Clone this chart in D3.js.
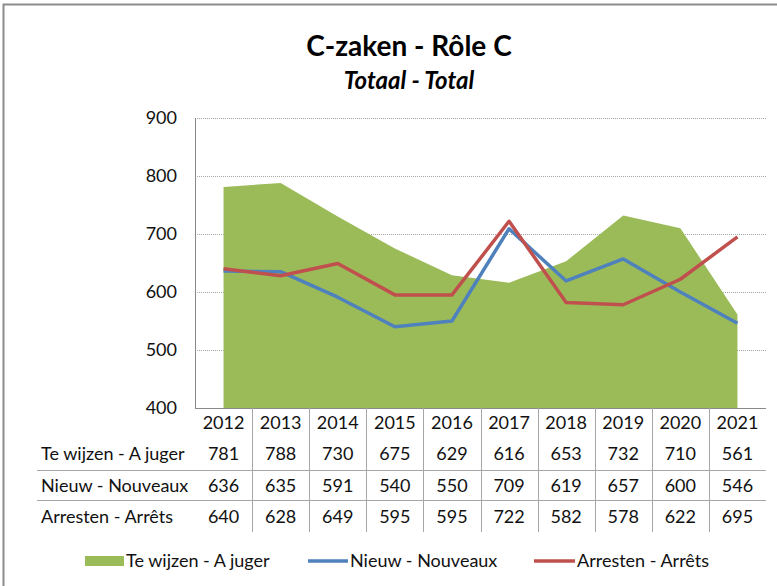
<!DOCTYPE html>
<html>
<head>
<meta charset="utf-8">
<title>C-zaken - Rôle C</title>
<script src="https://cdn.jsdelivr.net/npm/d3@7/dist/d3.min.js"></script>
<style>
body { margin: 0; background: #fff; }
svg { display: block; font-family: Lato, "Open Sans", sans-serif; }
</style>
</head>
<body>
<svg id="chart" width="777" height="586"></svg>
<script>
// data
const years = ["2012","2013","2014","2015","2016","2017","2018","2019","2020","2021"];
const aJuger = [781, 788, 730, 675, 629, 616, 653, 732, 710, 561];
const nouveaux = [636, 635, 591, 540, 550, 709, 619, 657, 600, 546];
const arrets = [640, 628, 649, 595, 595, 722, 582, 578, 622, 695];
const yTicks = [400, 500, 600, 700, 800, 900];

const rows = [
  {label: "Te wijzen - A juger", values: aJuger},
  {label: "Nieuw - Nouveaux", values: nouveaux},
  {label: "Arresten - Arrêts", values: arrets}
];

const green = "#9BBB59", blue = "#4F81BD", red = "#C0504D";
const axisCol = "#898989";
const txt = "#111";
const fs = "18px";

const svg = d3.select("#chart");

// outer frame (right and bottom sides fall outside the picture)
svg.append("rect")
  .attr("x", 3.5).attr("y", 4.5)
  .attr("width", 840).attr("height", 640)
  .attr("fill", "none").attr("stroke", "#8c8c8c").attr("stroke-width", 2);

// titles
svg.append("text")
  .attr("x", 409).attr("y", 56)
  .attr("text-anchor", "middle")
  .style("font-size", "28px").style("font-weight", "bold")
  .text("C-zaken - Rôle C");
svg.append("text")
  .attr("x", 409).attr("y", 89)
  .attr("text-anchor", "middle")
  .style("font-size", "24px").style("font-weight", "bold").style("font-style", "italic")
  .text("Totaal - Total");

const pLeft = 195, pRight = 766, pTop = 118, pBottom = 408;

const x = d3.scaleBand().domain(years).range([pLeft, pRight]);
const cx = d => x(d) + x.bandwidth() / 2;
const y = d3.scaleLinear().domain([400, 900]).range([pBottom, pTop]);

// gridlines
svg.append("g")
  .selectAll("line")
  .data(yTicks.filter(t => t > 400))
  .join("line")
  .attr("x1", pLeft).attr("x2", pRight)
  .attr("y1", d => Math.round(y(d)) + 0.5).attr("y2", d => Math.round(y(d)) + 0.5)
  .attr("stroke", "#a6a6a6").attr("stroke-dasharray", "1,1");

// y labels
svg.append("g")
  .selectAll("text")
  .data(yTicks)
  .join("text")
  .attr("x", 177).attr("y", d => y(d))
  .attr("dy", "0.35em")
  .attr("text-anchor", "end")
  .style("font-size", fs).attr("fill", txt)
  .text(d => d);

// area: Te wijzen - A juger
const area = d3.area()
  .x((d, i) => cx(years[i]))
  .y0(y(400))
  .y1(d => y(d));
svg.append("path")
  .datum(aJuger)
  .attr("d", area)
  .attr("fill", green);

// lines
const line = d3.line()
  .x((d, i) => cx(years[i]))
  .y(d => y(d));
[[nouveaux, blue], [arrets, red]].forEach(([vals, col]) => {
  svg.append("path")
    .datum(vals)
    .attr("d", line)
    .attr("fill", "none")
    .attr("stroke", col)
    .attr("stroke-width", 3.5)
    .attr("stroke-linejoin", "round");
});

// axes
svg.append("line")
  .attr("x1", pLeft + 0.5).attr("x2", pLeft + 0.5)
  .attr("y1", pTop).attr("y2", pBottom)
  .attr("stroke", axisCol);
svg.append("line")
  .attr("x1", pLeft).attr("x2", pRight)
  .attr("y1", pBottom + 0.5).attr("y2", pBottom + 0.5)
  .attr("stroke", axisCol);

// data table
const tableBottom = 532;
const rowY = [454, 486, 517];
const sepY = [470, 500];

svg.append("g")
  .selectAll("line")
  .data(years.slice(1))
  .join("line")
  .attr("x1", d => Math.round(x(d)) + 0.5).attr("x2", d => Math.round(x(d)) + 0.5)
  .attr("y1", pBottom).attr("y2", tableBottom)
  .attr("stroke", "#a6a6a6");

svg.append("g")
  .selectAll("line")
  .data(sepY)
  .join("line")
  .attr("x1", 37).attr("x2", pRight)
  .attr("y1", d => d + 0.5).attr("y2", d => d + 0.5)
  .attr("stroke", "#a6a6a6");

svg.append("g")
  .selectAll("text")
  .data(years)
  .join("text")
  .attr("x", d => cx(d)).attr("y", 423)
  .attr("dy", "0.35em")
  .attr("text-anchor", "middle")
  .style("font-size", fs).attr("fill", txt)
  .text(d => d);

rows.forEach((r, ri) => {
  const g = svg.append("g");
  g.append("text")
    .attr("x", 41).attr("y", rowY[ri]).attr("dy", "0.35em")
    .style("font-size", fs).attr("fill", txt)
    .text(r.label);
  g.selectAll("text.v")
    .data(r.values)
    .join("text")
    .attr("class", "v")
    .attr("x", (d, i) => cx(years[i])).attr("y", rowY[ri]).attr("dy", "0.35em")
    .attr("text-anchor", "middle")
    .style("font-size", fs).attr("fill", txt)
    .text(d => d);
});

// legend
const legY = 561;
const leg = svg.append("g");
leg.append("rect")
  .attr("x", 85).attr("y", legY - 5).attr("width", 39).attr("height", 10)
  .attr("fill", green);
leg.append("text").attr("x", 126).attr("y", legY).attr("dy", "0.35em")
  .style("font-size", fs).attr("fill", txt).text(rows[0].label);
leg.append("line").attr("x1", 308).attr("x2", 348).attr("y1", legY).attr("y2", legY)
  .attr("stroke", blue).attr("stroke-width", 3.5);
leg.append("text").attr("x", 350).attr("y", legY).attr("dy", "0.35em")
  .style("font-size", fs).attr("fill", txt).text(rows[1].label);
leg.append("line").attr("x1", 534).attr("x2", 575).attr("y1", legY).attr("y2", legY)
  .attr("stroke", red).attr("stroke-width", 3.5);
leg.append("text").attr("x", 577).attr("y", legY).attr("dy", "0.35em")
  .style("font-size", fs).attr("fill", txt).text(rows[2].label);
</script>
</body>
</html>
